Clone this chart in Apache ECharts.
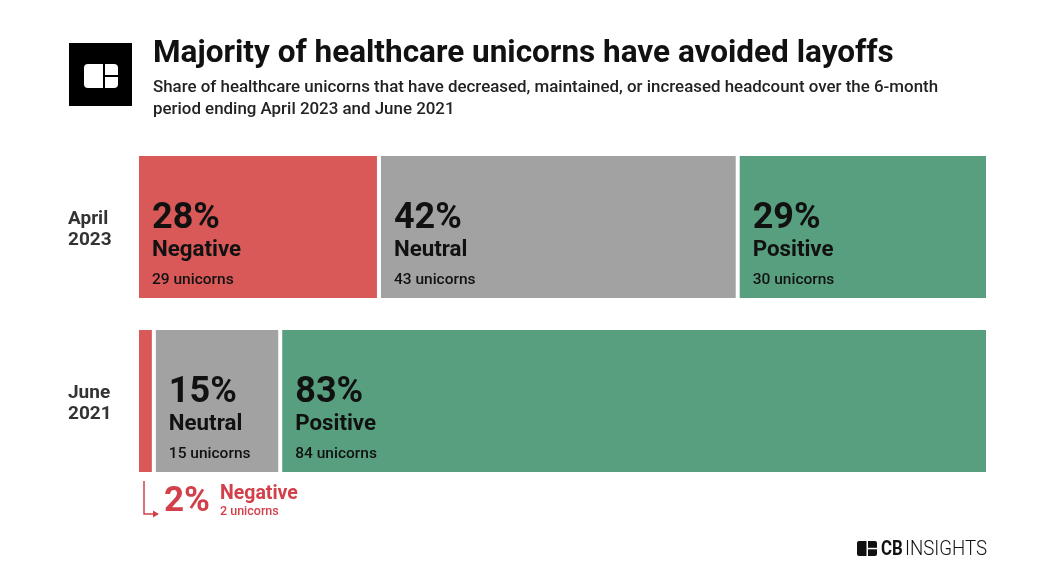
<!DOCTYPE html>
<html>
<head>
<meta charset="utf-8">
<script src="https://cdn.jsdelivr.net/npm/echarts@6/dist/echarts.min.js"></script>
<style>
html,body{margin:0;padding:0;background:#fff;}
#chart{width:1048px;height:582px;}
</style>
</head>
<body>
<div id="chart"></div>
<script>
// ---- data ----
const categories = ['April\n2023', 'June\n2021'];
const segmentNames = ['Negative', 'Neutral', 'Positive'];
const negativeCounts = [29, 2];
const neutralCounts = [43, 15];
const positiveCounts = [30, 84];
const negativePct = [28, 2];
const neutralPct = [42, 15];
const positivePct = [29, 83];

const RED = '#d95858';
const GRAY = '#a2a2a2';
const GREEN = '#579f7e';
const ANN_RED = '#d2404a';
const FONT = 'Roboto';

const counts = [negativeCounts, neutralCounts, positiveCounts];
const pcts = [negativePct, neutralPct, positivePct];
const colors = [RED, GRAY, GREEN];
const rowTotals = categories.map((c, i) => negativeCounts[i] + neutralCounts[i] + positiveCounts[i]);

const series = segmentNames.map((name, s) => ({
  name: name,
  type: 'bar',
  stack: 'total',
  barWidth: 146,
  itemStyle: { color: colors[s], borderColor: '#fff', borderWidth: 2 },
  label: {
    show: true,
    position: 'insideLeft',
    distance: 15,
    offset: [0, 22.5],
    formatter: (p) => '{p|' + pcts[s][p.dataIndex] + '%}\n{n|' + name + '}\n{c|' + counts[s][p.dataIndex] + ' unicorns}',
    rich: {
      p: { fontFamily: FONT, fontSize: 36, fontWeight: 'bold', color: '#111', lineHeight: 35 },
      n: { fontFamily: FONT, fontSize: 22.3, fontWeight: 'bold', color: '#111', lineHeight: 27 },
      c: { fontFamily: FONT, fontSize: 15.5, fontWeight: 500, color: '#111', lineHeight: 34 }
    }
  },
  emphasis: { disabled: true },
  data: counts[s].map((v, i) => {
    const item = { value: v / rowTotals[i] * 100 };
    if (s === 0 && i === 1) item.label = { show: false };
    return item;
  })
}));

const chart = echarts.init(document.getElementById('chart'));
chart.setOption({
  backgroundColor: '#fff',
  animation: false,
  title: {
    text: 'Majority of healthcare unicorns have avoided layoffs',
    subtext: 'Share of healthcare unicorns that have decreased, maintained, or increased headcount over the 6-month\nperiod ending April 2023 and June 2021',
    left: 148,
    top: 33,
    itemGap: 7,
    textStyle: { fontFamily: FONT, fontSize: 31.5, fontWeight: 'bold', color: '#111' },
    subtextStyle: { fontFamily: FONT, fontSize: 16.9, fontWeight: 500, color: '#222', lineHeight: 22 }
  },
  grid: { left: 137, right: 60, top: 140, bottom: 94 },
  xAxis: { type: 'value', min: 0, max: 100, show: false },
  yAxis: {
    type: 'category',
    data: categories,
    inverse: true,
    axisLine: { show: false },
    axisTick: { show: false },
    axisLabel: {
      align: 'left',
      margin: 69,
      formatter: (v) => '{g| }\n' + v.split('\n').map(t => '{a|' + t + '}').join('\n'),
      rich: {
        g: { fontSize: 1, lineHeight: 6 },
        a: { fontFamily: FONT, fontSize: 19, fontWeight: 'bold', color: '#333', lineHeight: 21 }
      }
    }
  },
  series: series,
  graphic: [
    { type: 'rect', shape: { x: 69, y: 43, width: 63, height: 63 }, style: { fill: '#000' } },
    { type: 'rect', shape: { x: 84, y: 64, width: 34, height: 24, r: 4 }, style: { fill: '#fff' } },
    { type: 'rect', shape: { x: 103, y: 64, width: 2, height: 24 }, style: { fill: '#000' } },
    { type: 'rect', shape: { x: 104, y: 75, width: 14, height: 2 }, style: { fill: '#000' } },
    // annotation for June negative
    { type: 'polyline', shape: { points: [[144, 481], [144, 514], [155, 514]] }, style: { stroke: ANN_RED, lineWidth: 1.5, fill: null } },
    { type: 'polygon', shape: { points: [[153, 510.5], [159, 514], [153, 517.5]] }, style: { fill: ANN_RED } },
    { type: 'text', x: 164, y: 502.5, style: { text: negativePct[1] + '%', fontFamily: FONT, fontSize: 35, fontWeight: 'bold', fill: ANN_RED, textVerticalAlign: 'middle' } },
    { type: 'text', x: 220, y: 494, style: { text: segmentNames[0], fontFamily: FONT, fontSize: 19.5, fontWeight: 'bold', fill: ANN_RED, textVerticalAlign: 'middle' } },
    { type: 'text', x: 220, y: 511.5, style: { text: negativeCounts[1] + ' unicorns', fontFamily: FONT, fontSize: 12.5, fontWeight: 500, fill: ANN_RED, textVerticalAlign: 'middle' } },
    // CB Insights logo
    { type: 'rect', shape: { x: 857, y: 541, width: 20, height: 15, r: 2 }, style: { fill: '#111' } },
    { type: 'rect', shape: { x: 866.5, y: 541, width: 1.5, height: 15 }, style: { fill: '#fff' } },
    { type: 'rect', shape: { x: 867, y: 547.8, width: 10, height: 1.5 }, style: { fill: '#fff' } },
    { type: 'text', x: 881, y: 550, scaleX: 0.8, style: { text: 'CB', fontFamily: FONT, fontSize: 21, fontWeight: 'bold', fill: '#111', textVerticalAlign: 'middle' } },
    { type: 'text', x: 905, y: 550, scaleX: 0.89, style: { text: 'INSIGHTS', fontFamily: FONT, fontSize: 21, fontWeight: 300, fill: '#111', textVerticalAlign: 'middle' } }
  ]
});
</script>
</body>
</html>
